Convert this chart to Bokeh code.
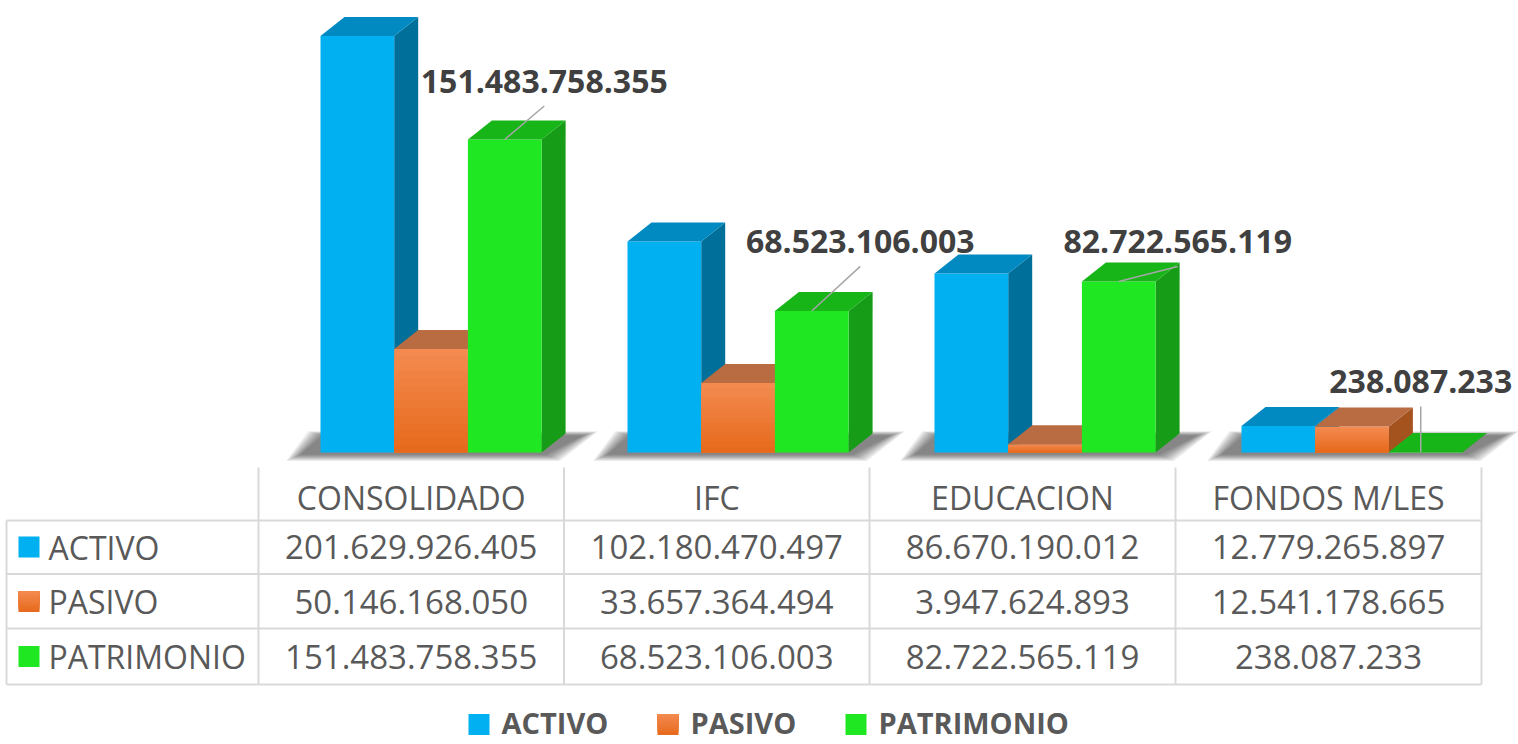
from bokeh.plotting import figure
from bokeh.models import Range1d
from bokeh.embed import file_html
from bokeh.resources import INLINE
from bokeh.core.properties import value

# ---------------- data ----------------
categories = ["CONSOLIDADO", "IFC", "EDUCACION", "FONDOS M/LES"]
series = ["ACTIVO", "PASIVO", "PATRIMONIO"]
activo = [201629926405, 102180470497, 86670190012, 12779265897]
pasivo = [50146168050, 33657364494, 3947624893, 12541178665]
patrimonio = [151483758355, 68523106003, 82722565119, 238087233]
values = [activo, pasivo, patrimonio]


def fmt(v):
    return f"{v:,}".replace(",", ".")


# ---------------- styles / layout ----------------
FONT = value("Open Sans")
W, H = 1518, 744
X0, Y0 = 0, 0
BASE_PX = 452.0          # pixel row of the bar floor
K = 2.066e-9             # pixels per unit of value
BW = 73.7                # bar width (px)
DX, DYP = 24.0, 19.0     # 3D depth offsets (px)
GROUP_LEFT0 = 320.0
GROUP_STEP = 307.0
DYV = DYP / K

front_col = ["#00B0F0", None, "#1FE823"]
top_col = ["#0189C2", "#B96B42", "#18B518"]
side_col = ["#006F99", "#A5531E", "#169C16"]
orange_bottom = (0xE6, 0x69, 0x1A)
orange_top = (0xF4, 0x8B, 0x52)


def mix(c0, c1, t):
    return "#%02X%02X%02X" % tuple(int(round(a + (b - a) * t)) for a, b in zip(c0, c1))


p = figure(width=W, height=H, output_backend="svg", toolbar_location=None,
           x_range=Range1d(X0, X0 + W),
           y_range=Range1d((BASE_PX - (Y0 + H)) / K, (BASE_PX - Y0) / K),
           x_axis_type=None, y_axis_type=None, min_border=0)
p.outline_line_color = None
p.background_fill_color = "white"
p.border_fill_color = "white"
p.extra_y_ranges = {"px": Range1d(Y0 + H, Y0)}

# ---------------- soft floor shadows ----------------
for i in range(len(categories)):
    L = GROUP_LEFT0 + i * GROUP_STEP
    R = L + 3 * BW
    for j in range(10):
        g = 1.6 * (9 - j)
        xs = [L - 20 - g, R + 4 + g, R + DX + 18 + g, L + 2 - g]
        ys = [454 + g * 0.45, 454 + g * 0.45, 435 - g * 0.3, 435 - g * 0.3]
        p.patch(xs, ys, fill_color="#202020", fill_alpha=0.07, line_color=None,
                y_range_name="px")

# ---------------- 3D bars ----------------
for i in range(len(categories)):
    for s in range(len(series)):
        v = values[s][i]
        L = GROUP_LEFT0 + i * GROUP_STEP + s * BW
        R = L + BW
        # side face
        p.patch([R, R, R + DX, R + DX], [0, v, v + DYV, DYV],
                fill_color=side_col[s], line_color=None)
        # front face
        if s == 1:
            n = 14
            order = list(range(n))[::-1]
            p.quad(left=[L] * n, right=[R] * n,
                   bottom=[0] * n,
                   top=[v * (j + 1) / n for j in order],
                   fill_color=[mix(orange_bottom, orange_top, (j + 0.5) / n) for j in order],
                   line_color=None)
        else:
            p.quad(left=[L], right=[R], bottom=[0], top=[v],
                   fill_color=front_col[s], line_color=None)
        # top face
        p.patch([L, L + DX, R + DX, R], [v, v + DYV, v + DYV, v],
                fill_color=top_col[s], line_color=None)

# ---------------- data labels (PATRIMONIO) ----------------
label_off = [(39.5, 58.5), (48.5, 69.6), (59.0, 40.0), (-5.0, 70.5)]
lx, ly, lt, sx, sy, ex, ey = [], [], [], [], [], [], []
for i in range(len(categories)):
    v = patrimonio[i]
    cx = GROUP_LEFT0 + i * GROUP_STEP + 2 * BW + BW / 2
    ox, oy = label_off[i]
    lx.append(cx + ox)
    ly.append(v + oy / K)
    lt.append(fmt(v))
    sx.append(cx if abs(ox) > 10 else cx + ox)
    sy.append(v)
    ex.append(cx + ox)
    ey.append(v + (oy - 25) / K)
p.segment(x0=sx, y0=sy, x1=ex, y1=ey, line_color="#A6A6A6", line_width=1.5)
p.text(x=lx, y=ly, text=lt, text_font=FONT, text_font_size="32px",
       text_font_style="bold", text_color="#404040", text_align="center",
       text_baseline="middle")

# ---------------- data table ----------------
col_edges = [258, 563.5, 869, 1175, 1481]
row_lines = [520, 573.5, 628, 684]
head_y = 497
row_y = [546.5, 601, 656]
grid = "#D9D9D9"
p.segment(x0=[6] * 4, x1=[1481] * 4, y0=row_lines, y1=row_lines,
          line_color=grid, line_width=2, y_range_name="px")
p.segment(x0=col_edges, x1=col_edges, y0=[467] * 5, y1=[684] * 5,
          line_color=grid, line_width=2, y_range_name="px")
p.segment(x0=[6], x1=[6], y0=[520], y1=[684], line_color=grid, line_width=2,
          y_range_name="px")

centers = [(col_edges[c] + col_edges[c + 1]) / 2 for c in range(4)]
p.text(x=centers, y=[head_y] * 4, text=categories, text_font=FONT,
       text_font_size="32px", text_color="#595959", text_align="center",
       text_baseline="middle", y_range_name="px")
for s in range(3):
    p.text(x=centers, y=[row_y[s]] * 4, text=[fmt(v) for v in values[s]],
           text_font=FONT, text_font_size="33px", text_color="#595959",
           text_align="center", text_baseline="middle", y_range_name="px")
p.text(x=[48] * 3, y=row_y, text=series, text_font=FONT, text_font_size="32px",
       text_color="#595959", text_align="left", text_baseline="middle",
       y_range_name="px")


def swatch(x, yc, s, size):
    if s == 1:
        n = 8
        order = list(range(n))[::-1]
        p.quad(left=[x] * n, right=[x + size] * n,
               top=[yc - size / 2] * n,
               bottom=[yc - size / 2 + size * (j + 1) / n for j in order],
               fill_color=[mix(orange_top, orange_bottom, (j + 0.5) / n) for j in order],
               line_color=None, y_range_name="px")
    else:
        p.quad(left=[x], right=[x + size], top=[yc - size / 2], bottom=[yc + size / 2],
               fill_color=front_col[s], line_color=None, y_range_name="px")


for s in range(3):
    swatch(18, row_y[s], s, 21)

# ---------------- legend ----------------
leg_x = [468, 657, 845]
leg_y = 722
for s in range(3):
    swatch(leg_x[s], leg_y + 2, s, 21)
p.text(x=[x + 33 for x in leg_x], y=[leg_y] * 3, text=series, text_font=FONT,
       text_font_size="29px", text_font_style="bold", text_color="#595959",
       text_align="left", text_baseline="middle", y_range_name="px")

open("out.html", "w").write(file_html(p, INLINE))
